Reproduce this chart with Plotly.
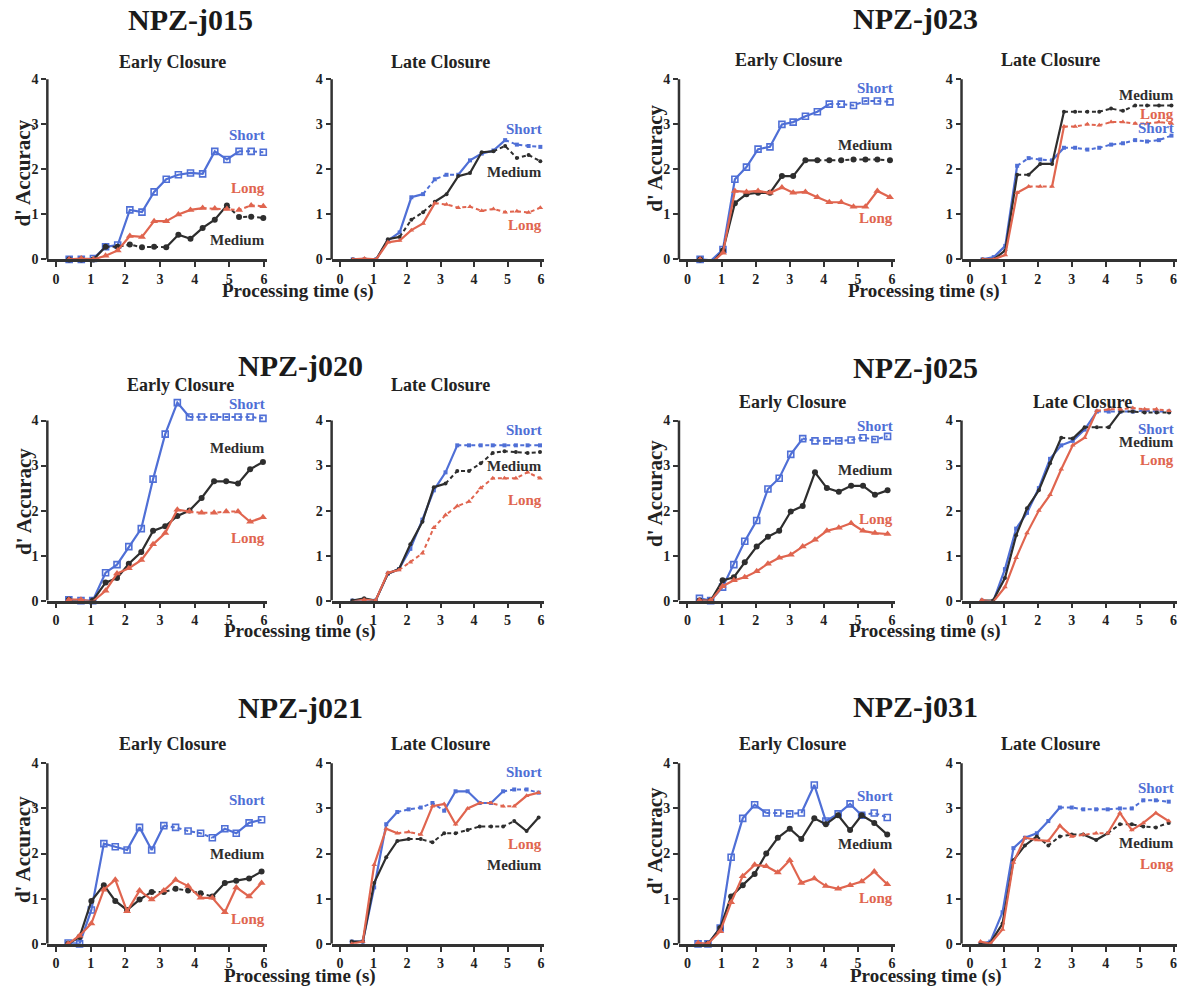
import plotly.graph_objects as go

W, H = 1179, 993
FONT = "Liberation Serif"
C_SHORT = "#4f6fd6"
C_MED = "#2e2e2e"
C_LONG = "#e0654f"
AX = "#333333"

# ---------------- data ----------------
T_J015 = [0.38, 0.73, 1.08, 1.43, 1.78, 2.13, 2.48, 2.83, 3.18, 3.53, 3.88, 4.23, 4.58, 4.93, 5.28, 5.63, 5.98]
T_J023 = [0.37, 0.70, 1.04, 1.39, 1.73, 2.07, 2.42, 2.77, 3.10, 3.46, 3.81, 4.16, 4.51, 4.87, 5.22, 5.57, 5.94]
T_J020 = [0.37, 0.72, 1.06, 1.43, 1.76, 2.10, 2.46, 2.80, 3.15, 3.50, 3.85, 4.20, 4.56, 4.91, 5.25, 5.60, 5.97]
T_J025 = [0.35, 0.68, 1.03, 1.36, 1.68, 2.03, 2.36, 2.69, 3.03, 3.38, 3.74, 4.09, 4.44, 4.80, 5.15, 5.50, 5.87]
T_J021 = [0.35, 0.68, 1.02, 1.38, 1.71, 2.05, 2.41, 2.76, 3.11, 3.45, 3.81, 4.17, 4.51, 4.87, 5.20, 5.57, 5.93]
T_J031 = [0.31, 0.60, 0.96, 1.28, 1.62, 1.97, 2.31, 2.65, 3.00, 3.34, 3.72, 4.06, 4.42, 4.77, 5.11, 5.48, 5.86]

J015_E_SHORT = [0.0, 0.0, 0.02, 0.28, 0.32, 1.10, 1.05, 1.50, 1.78, 1.88, 1.92, 1.90, 2.40, 2.22, 2.40, 2.40, 2.38]
J015_E_MED = [0.0, 0.0, 0.0, 0.28, 0.28, 0.33, 0.27, 0.28, 0.27, 0.55, 0.46, 0.70, 0.88, 1.20, 0.94, 0.95, 0.92]
J015_E_LONG = [0.0, 0.02, 0.0, 0.08, 0.20, 0.52, 0.50, 0.85, 0.85, 1.00, 1.10, 1.14, 1.13, 1.12, 1.10, 1.20, 1.18]
J015_L_SHORT = [0.0, 0.0, 0.0, 0.42, 0.60, 1.38, 1.45, 1.78, 1.88, 1.88, 2.20, 2.35, 2.42, 2.65, 2.55, 2.52, 2.50]
J015_L_MED = [0.0, 0.0, 0.0, 0.45, 0.50, 0.88, 1.05, 1.28, 1.45, 1.85, 1.92, 2.38, 2.40, 2.52, 2.25, 2.32, 2.18]
J015_L_LONG = [0.0, 0.02, 0.0, 0.38, 0.42, 0.65, 0.80, 1.25, 1.22, 1.15, 1.17, 1.08, 1.12, 1.05, 1.07, 1.04, 1.15]

J023_E_SHORT = [0.0, -0.02, 0.22, 1.78, 2.05, 2.45, 2.50, 3.00, 3.05, 3.18, 3.28, 3.45, 3.45, 3.42, 3.52, 3.52, 3.50]
J023_E_MED = [0.0, -0.10, 0.20, 1.25, 1.45, 1.48, 1.48, 1.85, 1.85, 2.20, 2.20, 2.20, 2.20, 2.22, 2.22, 2.22, 2.20]
J023_E_LONG = [0.0, -0.08, 0.15, 1.52, 1.50, 1.52, 1.48, 1.60, 1.48, 1.50, 1.38, 1.27, 1.27, 1.17, 1.17, 1.52, 1.38]
J023_L_SHORT = [0.0, 0.05, 0.30, 2.08, 2.25, 2.22, 2.20, 2.48, 2.48, 2.44, 2.48, 2.55, 2.58, 2.65, 2.62, 2.65, 2.75]
J023_L_MED = [0.0, 0.0, 0.20, 1.88, 1.88, 2.12, 2.12, 3.28, 3.28, 3.28, 3.28, 3.35, 3.30, 3.42, 3.42, 3.42, 3.42]
J023_L_LONG = [0.0, 0.0, 0.10, 1.48, 1.62, 1.62, 1.62, 2.95, 2.95, 3.00, 2.98, 3.05, 3.05, 3.02, 3.02, 3.05, 3.02]

J020_E_SHORT = [0.02, 0.0, 0.0, 0.62, 0.80, 1.20, 1.60, 2.70, 3.70, 4.40, 4.08, 4.08, 4.08, 4.08, 4.08, 4.08, 4.05]
J020_E_MED = [0.02, -0.03, 0.0, 0.40, 0.50, 0.82, 1.08, 1.55, 1.65, 1.88, 2.00, 2.28, 2.65, 2.65, 2.60, 2.92, 3.08]
J020_E_LONG = [0.02, 0.02, -0.02, 0.22, 0.60, 0.72, 0.90, 1.25, 1.50, 2.02, 1.98, 1.95, 1.95, 1.98, 1.98, 1.75, 1.85]
J020_L_SHORT = [0.0, 0.02, 0.0, 0.60, 0.70, 1.15, 1.80, 2.45, 2.85, 3.45, 3.45, 3.45, 3.45, 3.45, 3.45, 3.45, 3.45]
J020_L_MED = [0.0, 0.05, 0.0, 0.60, 0.70, 1.25, 1.75, 2.52, 2.60, 2.88, 2.88, 3.05, 3.28, 3.32, 3.30, 3.28, 3.30]
J020_L_LONG = [-0.02, 0.02, 0.0, 0.62, 0.68, 0.85, 1.05, 1.62, 1.90, 2.10, 2.20, 2.50, 2.72, 2.72, 2.72, 2.85, 2.72]

J025_E_SHORT = [0.05, 0.0, 0.30, 0.80, 1.32, 1.78, 2.48, 2.72, 3.25, 3.60, 3.55, 3.55, 3.55, 3.57, 3.62, 3.58, 3.65]
J025_E_MED = [0.0, 0.0, 0.45, 0.52, 0.85, 1.20, 1.42, 1.55, 1.98, 2.10, 2.85, 2.50, 2.42, 2.55, 2.55, 2.35, 2.45]
J025_E_LONG = [0.0, 0.0, 0.32, 0.45, 0.52, 0.65, 0.82, 0.95, 1.02, 1.20, 1.35, 1.55, 1.62, 1.72, 1.55, 1.50, 1.48]
J025_L_SHORT = [0.0, -0.03, 0.70, 1.60, 1.95, 2.50, 3.15, 3.45, 3.55, 3.80, 4.20, 4.20, 4.20, 4.20, 4.22, 4.20, 4.20]
J025_L_MED = [0.0, 0.0, 0.50, 1.45, 2.05, 2.45, 3.05, 3.62, 3.60, 3.85, 3.85, 3.85, 4.20, 4.20, 4.18, 4.18, 4.18]
J025_L_LONG = [0.02, -0.03, 0.30, 0.95, 1.50, 2.00, 2.35, 2.92, 3.45, 3.62, 4.22, 4.25, 4.25, 4.28, 4.25, 4.25, 4.22]

J021_E_SHORT = [0.02, 0.0, 0.75, 2.22, 2.15, 2.08, 2.58, 2.08, 2.62, 2.58, 2.50, 2.45, 2.35, 2.55, 2.45, 2.68, 2.75]
J021_E_MED = [0.0, 0.15, 0.95, 1.30, 0.95, 0.75, 0.98, 1.15, 1.15, 1.22, 1.18, 1.12, 1.05, 1.35, 1.40, 1.45, 1.60]
J021_E_LONG = [0.0, 0.18, 0.45, 1.20, 1.42, 0.72, 1.18, 0.98, 1.18, 1.42, 1.28, 1.02, 1.02, 0.70, 1.25, 1.05, 1.35]
J021_L_SHORT = [0.05, 0.05, 1.25, 2.65, 2.92, 2.98, 3.02, 3.12, 2.95, 3.38, 3.38, 3.12, 3.12, 3.38, 3.42, 3.42, 3.35]
J021_L_MED = [0.05, 0.05, 1.35, 1.92, 2.28, 2.32, 2.32, 2.25, 2.45, 2.45, 2.52, 2.60, 2.60, 2.60, 2.72, 2.50, 2.80]
J021_L_LONG = [0.0, 0.05, 1.75, 2.55, 2.45, 2.48, 2.42, 3.05, 3.10, 2.65, 3.00, 3.12, 3.12, 3.05, 3.05, 3.28, 3.35]

J031_E_SHORT = [0.0, 0.0, 0.35, 1.92, 2.78, 3.08, 2.90, 2.90, 2.88, 2.90, 3.52, 2.72, 2.88, 3.10, 2.85, 2.90, 2.80]
J031_E_MED = [-0.05, 0.0, 0.35, 1.05, 1.30, 1.55, 2.00, 2.35, 2.55, 2.32, 2.78, 2.65, 2.85, 2.52, 2.85, 2.68, 2.42]
J031_E_LONG = [0.02, 0.0, 0.28, 0.92, 1.50, 1.75, 1.72, 1.58, 1.85, 1.35, 1.45, 1.28, 1.22, 1.30, 1.38, 1.60, 1.32]
J031_L_SHORT = [0.0, 0.05, 0.70, 2.12, 2.35, 2.45, 2.72, 3.02, 3.02, 2.98, 2.98, 2.98, 3.00, 3.00, 3.18, 3.18, 3.15]
J031_L_MED = [0.0, 0.02, 0.45, 1.85, 2.18, 2.38, 2.18, 2.38, 2.42, 2.42, 2.30, 2.45, 2.65, 2.65, 2.60, 2.58, 2.68]
J031_L_LONG = [0.05, 0.0, 0.32, 1.80, 2.35, 2.30, 2.28, 2.62, 2.38, 2.42, 2.45, 2.45, 2.90, 2.52, 2.68, 2.90, 2.72]

SUBJECTS = ["NPZ-j015", "NPZ-j023", "NPZ-j020", "NPZ-j025", "NPZ-j021", "NPZ-j031"]
CLOSURES = ["Early Closure", "Late Closure"]
X_TICKS = [0, 1, 2, 3, 4, 5, 6]
Y_TICKS = [0, 1, 2, 3, 4]

# panels: (times, short, medium, long)
PANEL_DATA = [
    (T_J015, J015_E_SHORT, J015_E_MED, J015_E_LONG),
    (T_J015, J015_L_SHORT, J015_L_MED, J015_L_LONG),
    (T_J023, J023_E_SHORT, J023_E_MED, J023_E_LONG),
    (T_J023, J023_L_SHORT, J023_L_MED, J023_L_LONG),
    (T_J020, J020_E_SHORT, J020_E_MED, J020_E_LONG),
    (T_J020, J020_L_SHORT, J020_L_MED, J020_L_LONG),
    (T_J025, J025_E_SHORT, J025_E_MED, J025_E_LONG),
    (T_J025, J025_L_SHORT, J025_L_MED, J025_L_LONG),
    (T_J021, J021_E_SHORT, J021_E_MED, J021_E_LONG),
    (T_J021, J021_L_SHORT, J021_L_MED, J021_L_LONG),
    (T_J031, J031_E_SHORT, J031_E_MED, J031_E_LONG),
    (T_J031, J031_L_SHORT, J031_L_MED, J031_L_LONG),
]

# ---------------- style / layout (not data) ----------------
# dotted index ranges per panel for (short, medium, long)
DOTTED = [
    ([(14, 16)], [(3, 8), (13, 16)], [(11, 16)]),
    ([(6, 9), (13, 16)], [(4, 7), (12, 16)], [(7, 16)]),
    ([(11, 16)], [(10, 16)], []),
    ([(3, 6), (7, 16)], [(3, 4), (7, 16)], [(4, 6), (7, 16)]),
    ([(10, 16)], [], [(10, 14)]),
    ([(9, 16)], [(8, 16)], [(4, 16)]),
    ([(9, 16)], [], []),
    ([(10, 16)], [(7, 8), (9, 11), (12, 16)], [(10, 16)]),
    ([(8, 12)], [(7, 12)], []),
    ([(4, 8), (13, 16)], [(5, 14)], [(4, 6), (11, 14)]),
    ([(6, 9), (14, 16)], [], []),
    ([(7, 16)], [(5, 9), (11, 16)], [(8, 11)]),
]
# label y positions (short, medium, long)
LABEL_Y = [
    (2.76, 0.42, 1.58), (2.90, 1.94, 0.76), (3.80, 2.55, 0.92), (2.91, 3.65, 3.24),
    (4.37, 3.38, 1.39), (3.78, 2.99, 2.24), (3.87, 2.91, 1.81), (3.81, 3.52, 3.13),
    (3.18, 2.00, 0.54), (3.80, 1.75, 2.22), (3.28, 2.22, 1.01), (3.45, 2.23, 1.78),
]
# pixel positions of x=0 / x=6 per column, y=0 / y=4 per row
COLS = [(56, 264), (340, 541), (687.5, 892), (970, 1173.5)]
ROWS = [(261.5, 80), (605.5, 424), (951.5, 769.5)]
PANEL_POS = [(0, 0), (0, 1), (0, 2), (0, 3), (1, 0), (1, 1), (1, 2), (1, 3), (2, 0), (2, 1), (2, 2), (2, 3)]
XMIN, XMAX, YMIN, YMAX = -0.25, 6.1, 0.0, 4.45

TITLE_POS = [(190, 20), (916, 19), (300, 368), (916, 370), (300, 713), (916, 712)]
SUB_POS = [(172, 62), (440, 62), (788, 60), (1050, 60),
           (180, 388), (440, 388), (792, 405), (1082, 405),
           (172, 750), (440, 750), (792, 750), (1050, 750)]
YTITLE_POS = [(23, 175), (655, 160), (24, 506), (655, 498), (23, 857), (655, 848)]
XTITLE_POS = [(298, 293), (924, 293), (300, 636), (925, 636), (300, 984), (926, 984)]


def runs(n, ranges):
    flags = []
    for i in range(n - 1):
        flags.append(any(a <= i < b for a, b in ranges))
    out = []
    start = 0
    for i in range(1, n):
        if i == n - 1 or flags[i] != flags[start]:
            out.append((start, i, flags[start]))
            start = i
    return out


fig = go.Figure()
layout = {}
annotations = []
shapes = []

for k, (times, s, m, l) in enumerate(PANEL_DATA):
    idx = k + 1
    xa = "x" if idx == 1 else f"x{idx}"
    ya = "y" if idx == 1 else f"y{idx}"
    early = (k % 2 == 0)
    r, c = PANEL_POS[k]
    x0p, x6p = COLS[c]
    y0p, y4p = ROWS[r]
    sx = (x6p - x0p) / 6.0
    sy = (y0p - y4p) / 4.0
    dom_x = [(x0p + XMIN * sx) / W, min(1.0, (x0p + XMAX * sx) / W)]
    dom_y = [1 - (y0p - YMIN * sy) / H, 1 - (y0p - YMAX * sy) / H]

    series = [
        ("Short", s, C_SHORT, "square-open" if early else "square", 6 if early else 4),
        ("Medium", m, C_MED, "circle", 6 if early else 4),
        ("Long", l, C_LONG, "triangle-up", 7 if early else 5),
    ]
    for j, (name, vals, color, sym, msize) in enumerate(series):
        for (i0, i1, dotted) in runs(len(vals), DOTTED[k][j]):
            fig.add_trace(go.Scatter(
                x=times[i0:i1 + 1], y=vals[i0:i1 + 1], mode="lines",
                line=dict(color=color, width=2.2 if not dotted else 2,
                          dash="4px,3px" if dotted else "solid"),
                xaxis=xa, yaxis=ya, showlegend=False, hoverinfo="skip"))
        fig.add_trace(go.Scatter(
            x=times, y=vals, mode="markers", name=name,
            marker=dict(symbol=sym, size=msize, color=color,
                        line=dict(color=color, width=1.6 if sym.endswith("open") else 0)),
            cliponaxis=False, xaxis=xa, yaxis=ya, showlegend=False))
        annotations.append(dict(
            x=6.08, y=LABEL_Y[k][j], xref=xa, yref=ya, xanchor="right", yanchor="middle",
            text=f"<b>{name}</b>", showarrow=False,
            font=dict(family=FONT, size=15, color=color)))

    tickfont = dict(family=FONT, size=14, color="#222", weight="bold")
    layout["xaxis" if idx == 1 else f"xaxis{idx}"] = dict(
        domain=dom_x, range=[XMIN, XMAX], anchor=ya, tickvals=X_TICKS,
        ticks="outside", ticklen=5, tickwidth=2, tickcolor=AX,
        showline=True, linewidth=2.5, linecolor=AX, showgrid=False, zeroline=False,
        tickfont=tickfont, fixedrange=True)
    layout["yaxis" if idx == 1 else f"yaxis{idx}"] = dict(
        domain=dom_y, range=[YMIN, YMAX], anchor=xa, tickvals=Y_TICKS,
        ticks="outside", ticklen=5, tickwidth=2, tickcolor=AX,
        showline=False, showgrid=False, zeroline=False,
        tickfont=tickfont, fixedrange=True)
    shapes.append(dict(type="line", xref=f"{xa} domain", yref=ya, x0=0, x1=0, y0=0, y1=4,
                       line=dict(color=AX, width=2.5)))

    sxp, syp = SUB_POS[k]
    annotations.append(dict(x=sxp / W, y=1 - syp / H, xref="paper", yref="paper",
                            xanchor="center", yanchor="middle", showarrow=False,
                            text=f"<b>{CLOSURES[k % 2]}</b>",
                            font=dict(family=FONT, size=18, color="#222")))

for i, subj in enumerate(SUBJECTS):
    tx, ty = TITLE_POS[i]
    annotations.append(dict(x=tx / W, y=1 - ty / H, xref="paper", yref="paper",
                            xanchor="center", yanchor="middle", showarrow=False,
                            text=f"<b>{subj}</b>", font=dict(family=FONT, size=30, color="#1a1a1a")))
    yx, yy = YTITLE_POS[i]
    annotations.append(dict(x=yx / W, y=1 - yy / H, xref="paper", yref="paper",
                            xanchor="center", yanchor="middle", showarrow=False, textangle=-90,
                            text="<b>d' Accuracy</b>", font=dict(family=FONT, size=21, color="#222")))
    xx, xy = XTITLE_POS[i]
    annotations.append(dict(x=xx / W, y=1 - xy / H, xref="paper", yref="paper",
                            xanchor="center", yanchor="middle", showarrow=False,
                            text="<b>Processing time (s)</b>", font=dict(family=FONT, size=19, color="#222")))

fig.update_layout(
    width=W, height=H, margin=dict(l=0, r=0, t=0, b=0),
    paper_bgcolor="white", plot_bgcolor="white",
    annotations=annotations, shapes=shapes, showlegend=False, **layout)

fig.write_html(
    "out.html",
    config={"displayModeBar": False},
    post_script="document.body.style.margin='0';document.body.style.padding='0';"
                "document.body.style.overflow='hidden';document.documentElement.style.overflow='hidden';")
